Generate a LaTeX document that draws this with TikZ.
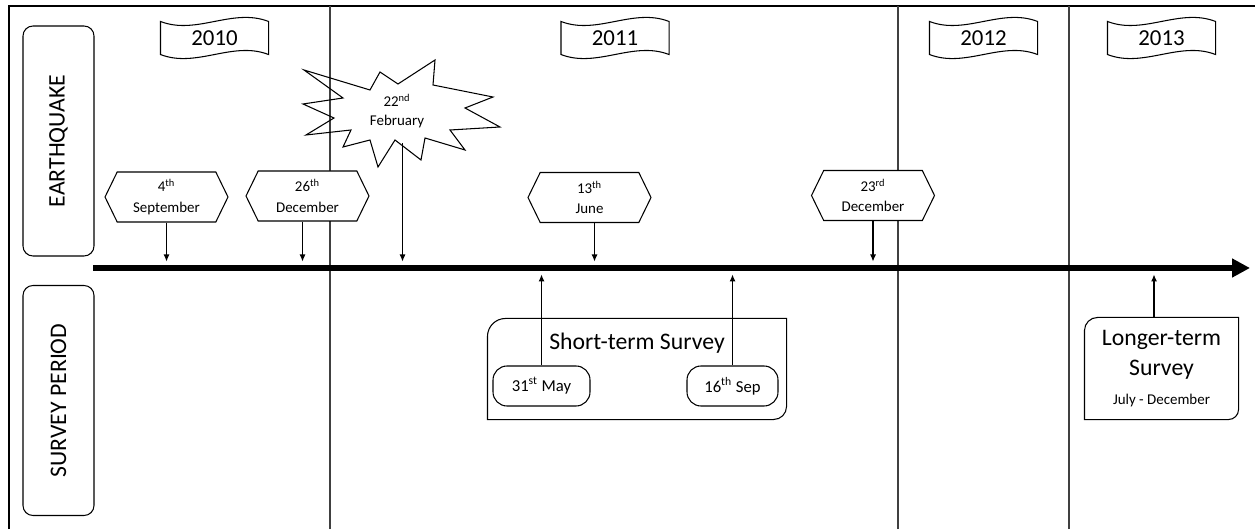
\documentclass[tikz,border=0pt]{standalone}
\usepackage{fontspec}
\setmainfont{Carlito}
\usetikzlibrary{arrows.meta,shapes.symbols}

\begin{document}
\begin{tikzpicture}[x=0.2mm,y=0.2mm,>={Latex[length=1.4mm,width=1.2mm]},line width=0.6pt,
   big/.style={font=\fontsize{13.5}{16}\selectfont},
   sml/.style={font=\fontsize{8.5}{10.5}\selectfont},
   sidebx/.style={draw,rounded corners=2mm,rotate=90,minimum width=46mm,minimum height=14.2mm,big},
   yrbx/.style={minimum width=21.4mm,minimum height=6.4mm,inner sep=0pt,font=\fontsize{13}{15}\selectfont},
   evbx/.style={draw,fill=white,signal,signal to=west and east,signal pointer angle=128,
     minimum width=24.6mm,minimum height=10mm,inner sep=1pt,align=center,font=\fontsize{8.5}{11.5}\selectfont},
   daybx/.style={draw,rounded corners=2.8mm,minimum height=8mm,font=\fontsize{9.5}{11}\selectfont},
   yrline/.style={black!75}]
  \useasboundingbox (0,0) rectangle (1255,529);
  % frame and year borders
  \draw (9,0) -- (9,523) -- (1255,523);
  \draw[yrline] (330,0) -- (330,523);
  \draw[yrline] (898,0) -- (898,523);
  \draw[yrline] (1069,0) -- (1069,523);

  % side labels
  \node[sidebx] (eq) at (58.5,388) {EARTHQUAKE};
  \node[sidebx] (sp) at (58.5,128.5) {SURVEY PERIOD};

  % year flags
  \node[yrbx] (y10) at (214.5,491) {2010};
  \node[yrbx] (y11) at (615,491) {2011};
  \node[yrbx] (y12) at (983.5,491) {2012};
  \node[yrbx] (y13) at (1161.5,491) {2013};
  \foreach \n in {y10,y11,y12,y13}
    \draw (\n.north west) .. controls +(36,-14) and +(-36,14) .. (\n.north east) -- (\n.south east)
      .. controls +(-36,14) and +(36,-14) .. (\n.south west) -- cycle;

  % time line
  \coordinate (t0) at (93,261);
  \coordinate (t1) at (1250,261);
  \draw[line width=1.2mm,-{Triangle[length=3.6mm,width=3.6mm]}] (t0) -- (t1);

  % quake of 22 feb
  \draw (304,459) -- (370,439) -- (380,457) -- (398,445) -- (435,469) -- (433,444) -- (493,432)
    -- (465,421) -- (500,402) -- (450,399) -- (465,379) -- (425,391) -- (421,369) -- (395,389)
    -- (378,362) -- (370,389) -- (343,382) -- (351,399) -- (306,394) -- (334,411) -- (303,425)
    -- (343,431) -- cycle;
  \node[sml,align=center] (f22) at (397,418) {22\textsuperscript{nd}\\February};
  \coordinate (feb) at (402.5,386);

  % other quakes
  \node[evbx] (s04) at (166.5,332) {4\textsuperscript{th}\\September};
  \node[evbx] (d26) at (307.5,333) {26\textsuperscript{th}\\December};
  \node[evbx] (j13) at (589.5,331.5) {13\textsuperscript{th}\\June};
  \node[evbx] (d23) at (873,333.5) {23\textsuperscript{rd}\\December};
  \draw[->,shorten >=1.3mm] (s04.south) -- (s04.south |- t0);
  \draw[->,shorten >=1.3mm] ([xshift=-1mm]d26.south) -- ([xshift=-1mm]d26.south |- t0);
  \draw[->,shorten >=1.3mm] (feb) -- (feb |- t0);
  \draw[->,shorten >=1.3mm] ([xshift=1mm]j13.south) -- ([xshift=1mm]j13.south |- t0);
  \draw[->,shorten >=1.3mm] (d23.south) -- (d23.south |- t0);

  % surveys
  \node[minimum width=59.6mm,minimum height=20mm] (st) at (637,160) {};
  \draw (st.north east) -- ([yshift=2.6mm]st.south east) arc (0:-90:2.6mm) -- (st.south west)
    -- ([yshift=-3.6mm]st.north west) arc (180:90:3.6mm) -- cycle;
  \node[big] (stt) at (637,186) {Short-term Survey};
  \node[daybx,minimum width=19.4mm] (m31) at (541.5,143) {31\textsuperscript{st} May};
  \node[daybx,minimum width=18.2mm] (s16) at (732.5,143) {16\textsuperscript{th} Sep};
  \draw[->,shorten >=1.3mm] (m31.north) -- (m31.north |- t0);
  \draw[->,shorten >=1.3mm] (s16.north) -- (s16.north |- t0);

  \node[minimum width=30.6mm,minimum height=20.2mm,align=center,inner sep=0pt,
    font=\fontsize{13.5}{17.5}\selectfont] (lt) at (1161.5,160.5)
    {Longer-term\\Survey\\[-1pt]{\fontsize{8.5}{10}\selectfont July - December}};
  \draw (lt.north east) -- ([yshift=2mm]lt.south east) arc (0:-90:2mm) -- (lt.south west)
    -- ([yshift=-2.6mm]lt.north west) arc (180:90:2.6mm) -- cycle;
  \draw[->,shorten >=1.3mm] ([xshift=-1.5mm]lt.north) -- ([xshift=-1.5mm]lt.north |- t0);
\end{tikzpicture}
\end{document}
